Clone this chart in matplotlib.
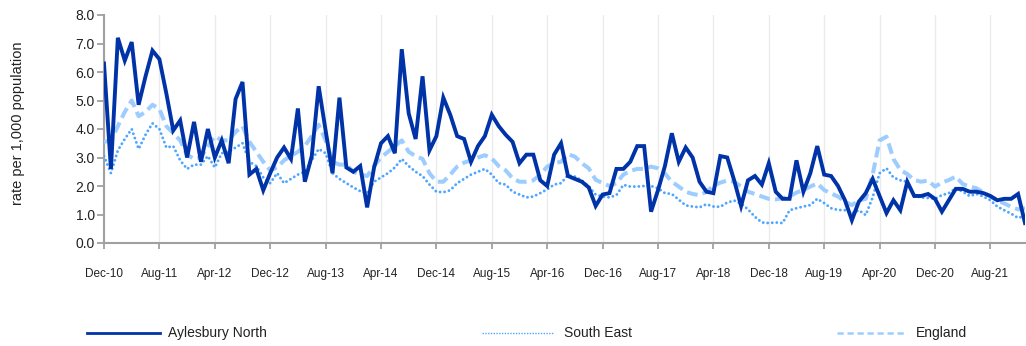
import matplotlib
matplotlib.use("Agg")
import matplotlib.pyplot as plt
from matplotlib.lines import Line2D
import numpy as np

# Monthly rate per 1,000 population, Dec-10 to Jan-22
aylesbury_north = [
    6.3, 2.6, 7.2, 6.4, 7.05, 4.85, 5.85, 6.75, 6.45, 5.25,
    3.95, 4.3, 3.0, 4.25, 2.85, 4.0, 3.0, 3.6, 2.8, 5.05,
    5.65, 2.4, 2.6, 1.85, 2.45, 3.0, 3.35, 2.95, 4.72, 2.15,
    3.05, 5.5, 3.95, 2.45, 5.1, 2.65, 2.5, 2.7, 1.25, 2.65,
    3.5, 3.75, 3.15, 6.8, 4.55, 3.65, 5.85, 3.25, 3.75, 5.1,
    4.5, 3.75, 3.65, 2.85, 3.4, 3.75, 4.5, 4.1, 3.8, 3.55,
    2.8, 3.1, 3.1, 2.2, 2.0, 3.1, 3.5, 2.35, 2.25, 2.15,
    1.95, 1.3, 1.7, 1.75, 2.6, 2.6, 2.85, 3.4, 3.4, 1.1,
    1.85, 2.7, 3.85, 2.85, 3.35, 3.0, 2.15, 1.8, 1.75, 3.05,
    3.0, 2.2, 1.3, 2.2, 2.35, 2.05, 2.8, 1.8, 1.55, 1.55,
    2.9, 1.8, 2.45, 3.4, 2.4, 2.35, 2.0, 1.5, 0.8, 1.45,
    1.75, 2.25, 1.65, 1.05, 1.5, 1.15, 2.15, 1.65, 1.65, 1.72,
    1.55, 1.1, 1.5, 1.9, 1.9, 1.8, 1.8, 1.75, 1.65, 1.5,
    1.55, 1.55, 1.72, 0.7,
]

south_east = [
    3.05, 2.45, 3.25, 3.65, 4.0, 3.3, 3.8, 4.2, 4.0, 3.35,
    3.4, 2.9, 2.6, 2.75, 2.75, 3.05, 2.65, 3.15, 3.2, 3.35,
    3.5, 2.85, 2.7, 2.3, 2.1, 2.45, 2.1, 2.25, 2.4, 2.5,
    2.9, 3.3, 3.15, 2.45, 2.25, 2.1, 1.95, 1.82, 1.75, 2.15,
    2.3, 2.45, 2.65, 2.95, 2.7, 2.5, 2.35, 2.05, 1.8, 1.78,
    1.85, 2.1, 2.25, 2.4, 2.5, 2.6, 2.4, 2.1, 2.05, 1.8,
    1.7, 1.6, 1.63, 1.75, 1.88, 2.05, 2.1, 2.38, 2.33, 2.2,
    1.98, 1.7, 1.63, 1.6, 1.68, 2.04, 1.98, 1.98, 2.0, 2.0,
    1.92, 1.75, 1.72, 1.52, 1.32, 1.28, 1.25, 1.36, 1.28, 1.27,
    1.42, 1.49, 1.38, 1.18, 0.92, 0.72, 0.7, 0.72, 0.7, 1.15,
    1.22, 1.28, 1.33, 1.55, 1.4, 1.22, 1.16, 1.15, 1.04, 1.15,
    0.98, 1.6, 2.45, 2.62, 2.3, 2.2, 2.15, 1.65, 1.6, 1.58,
    1.55, 1.68, 1.75, 1.92, 1.8, 1.65, 1.72, 1.63, 1.5, 1.28,
    1.15, 1.03, 0.88, 0.95,
]

england = [
    3.55, 3.6, 4.1, 4.6, 5.0, 4.45, 4.6, 4.85, 4.7, 4.1,
    3.85, 3.6, 3.1, 2.95, 3.0, 3.4, 3.75, 3.6, 3.6, 3.9,
    4.1, 3.55, 3.2, 2.85, 2.55, 2.65, 2.9, 3.05, 3.2, 3.4,
    3.75, 4.15, 3.6, 2.85, 2.75, 2.75, 2.5, 2.4, 2.35, 2.7,
    3.0, 3.2, 3.4, 3.6, 3.2, 3.05, 2.95, 2.45, 2.15, 2.15,
    2.4, 2.68, 2.82, 2.9, 3.0, 3.08, 2.97, 2.7, 2.55, 2.27,
    2.15, 2.15, 2.2, 2.4, 2.68, 2.8, 2.85, 3.12, 3.03, 2.8,
    2.62, 2.22, 2.1, 2.0, 2.1, 2.4, 2.53, 2.6, 2.6, 2.68,
    2.62, 2.44, 2.15, 1.98, 1.8, 1.72, 1.68, 1.8, 2.0, 2.12,
    2.19, 2.15, 1.98, 1.8, 1.72, 1.63, 1.55, 1.53, 1.57, 1.63,
    1.77, 1.86, 1.98, 2.09, 1.86, 1.74, 1.63, 1.45, 1.33, 1.49,
    1.55, 2.4, 3.6, 3.73, 2.95, 2.56, 2.42, 2.21, 2.15, 2.19,
    1.98, 2.12, 2.21, 2.33, 2.07, 1.98, 1.92, 1.77, 1.63, 1.49,
    1.39, 1.27, 1.18, 1.22,
]

tick_labels = [
    "Dec-10", "Aug-11", "Apr-12", "Dec-12", "Aug-13", "Apr-14",
    "Dec-14", "Aug-15", "Apr-16", "Dec-16", "Aug-17", "Apr-18",
    "Dec-18", "Aug-19", "Apr-20", "Dec-20", "Aug-21",
]
tick_step = 8  # months between labelled ticks

y_ticks = np.arange(0, 8.01, 1.0)

c_ayl = "#0033a8"
c_se = "#4da6ff"
c_eng = "#9dcdff"
axis_grey = "#a0a0a0"

plt.rcParams["font.family"] = ["Liberation Sans", "DejaVu Sans"]

W, H = 1026, 346
fig = plt.figure(figsize=(W / 100, H / 100), dpi=100)
ax = fig.add_axes([104 / W, 1 - 243 / H, (1025 - 104) / W, (243 - 15) / H])

x = np.arange(len(aylesbury_north))

ax.plot(x, england, color=c_eng, lw=2.9, linestyle=(0, (2.7, 1.3)),
        solid_capstyle="butt", zorder=3)
ax.plot(x, south_east, color=c_se, lw=2.1, linestyle=(0, (0.01, 1.55)),
        dash_capstyle="round", zorder=4)
ax.plot(x, aylesbury_north, color=c_ayl, lw=2.8, solid_joinstyle="miter",
        zorder=5)

ax.set_xlim(0, len(x) - 1)
ax.set_ylim(0, 8)

xt = np.arange(len(tick_labels)) * tick_step
ax.set_xticks(xt)
ax.set_xticklabels(tick_labels, fontsize=8.5, color="#222222")
ax.set_yticks(y_ticks)
ax.set_yticklabels([f"{v:.1f}" for v in y_ticks], fontsize=10, color="#222222")

ax.tick_params(axis="x", length=4, width=1.3, color=axis_grey, pad=14)
ax.tick_params(axis="y", length=5, width=1.3, color=axis_grey, pad=1.5)

for s in ("top", "right"):
    ax.spines[s].set_visible(False)
for s in ("left", "bottom"):
    ax.spines[s].set_color(axis_grey)
    ax.spines[s].set_linewidth(1.5)

ax.grid(axis="x", color="#ebebeb", lw=1.0, zorder=0)
ax.grid(axis="y", visible=False)
ax.set_axisbelow(True)

fig.text(18 / W, 1 - 123 / H, "rate per 1,000 population", rotation=90,
         ha="center", va="center", fontsize=10.5, color="#222222")

# Legend row along the bottom
legend_y = 1 - 333 / H
entries = [
    (87, 160, 168, "Aylesbury North", dict(color=c_ayl, lw=2.0)),
    (482, 554, 564, "South East", dict(color=c_se, lw=1.0, linestyle=(0, (1, 1)))),
    (837, 905, 916, "England", dict(color=c_eng, lw=1.8, linestyle=(0, (2.5, 1.5)))),
]
for x0, x1, xt0, label, style in entries:
    fig.add_artist(Line2D([x0 / W, x1 / W], [legend_y, legend_y],
                          transform=fig.transFigure, **style))
    fig.text(xt0 / W, legend_y, label, ha="left", va="center",
             fontsize=10, color="#222222")

fig.savefig("out.png", dpi=100)
